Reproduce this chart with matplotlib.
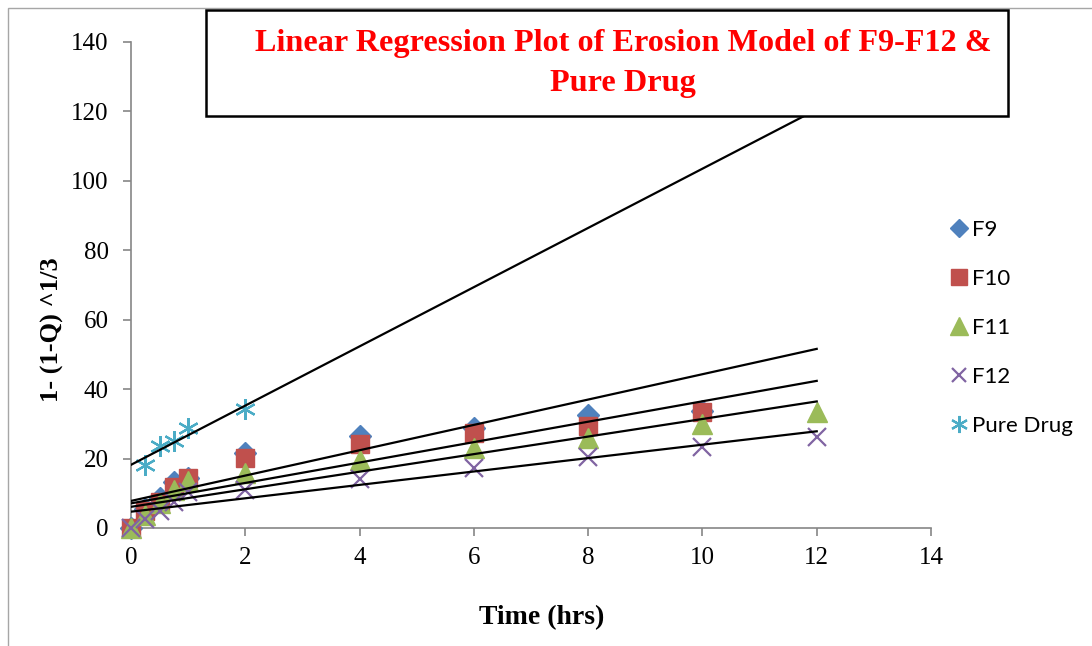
#!/usr/bin/env python3
"""Erosion model regression plot for F9-F12 and pure drug."""
import matplotlib

matplotlib.use("Agg", force=True)
import matplotlib.pyplot as plt
import numpy as np
from matplotlib.patches import Rectangle


TIME = [0, 0.25, 0.5, 0.75, 1, 2, 4, 6, 8, 10, 12]
F9 = [0, 5.5, 8.5, 13.3, 14.5, 21.7, 26.5, 28.7, 32.6, 33.6, np.nan]
F10 = [0, 5.0, 7.4, 11.7, 14.3, 20.2, 24.1, 27.4, 29.3, 33.4, np.nan]
F11 = [0, 3.7, 7.1, 11.0, 13.4, 15.8, 19.6, 23.1, 25.8, 29.9, 33.3]
F12 = [0, 2.6, 4.8, 7.4, 10.3, 10.9, 14.0, 17.2, 20.5, 23.2, 26.1]
PURE_TIME = [0.25, 0.5, 0.75, 1, 2]
PURE_DRUG = [18.2, 23.7, 25.0, 28.9, 34.3]

# linear trendlines (intercept, slope) as shown on the chart
TREND_INTERCEPT = [7.8, 7.1, 6.1, 4.7, 18.2]
TREND_SLOPE = [3.65, 2.94, 2.53, 1.93, 8.53]
TREND_END = 12

LABELS = ["F9", "F10", "F11", "F12", "Pure Drug"]
COLORS = ["#4F81BD", "#C0504D", "#9BBB59", "#8064A2", "#4BACC6"]

SERIF = "Liberation Serif"


def main() -> None:
    fig = plt.figure(figsize=(10.92, 6.46), dpi=100)
    ax = fig.add_axes([131 / 1092, 118 / 646, 800 / 1092, 486 / 646])

    styles = [
        dict(marker="D", ms=11),
        dict(marker="s", ms=13.5),
        dict(marker="^", ms=15),
        dict(marker="x", ms=13, mew=1.6),
        dict(marker=(6, 2, 0), ms=15, mew=1.6),
    ]
    series = [(TIME, F9), (TIME, F10), (TIME, F11), (TIME, F12), (PURE_TIME, PURE_DRUG)]
    handles = []
    for (xs, ys), label, color, st in zip(series, LABELS, COLORS, styles):
        h, = ax.plot(xs, ys, ls="none", color=color, mec=color, label=label,
                     clip_on=False, zorder=3, **st)
        handles.append(h)

    xs_line = np.array([0, TREND_END])
    for b, m in zip(TREND_INTERCEPT, TREND_SLOPE):
        ax.plot(xs_line, b + m * xs_line, color="black", lw=1.6, zorder=4)

    ax.set_xlim(0, 14)
    ax.set_ylim(0, 140)
    ax.set_xticks(range(0, 15, 2))
    ax.set_yticks(range(0, 141, 20))
    for side in ["top", "right"]:
        ax.spines[side].set_visible(False)
    for side in ["left", "bottom"]:
        ax.spines[side].set_color("#868686")
        ax.spines[side].set_linewidth(1.2)
    ax.tick_params(axis="both", direction="out", color="#868686", length=6, width=1.2,
                   labelsize=18)
    ax.tick_params(axis="y", pad=10)
    ax.tick_params(axis="x", pad=8)
    for lbl in ax.get_xticklabels() + ax.get_yticklabels():
        lbl.set_fontfamily(SERIF)

    fig.text(542 / 1092, 1 - 618 / 646, "Time (hrs)", ha="center", va="center",
             family=SERIF, fontweight="bold", fontsize=20)
    fig.text(52 / 1092, 1 - 330 / 646, "1- (1-Q) ^1/3", ha="center", va="center",
             rotation=90, family=SERIF, fontweight="bold", fontsize=19)

    # title box sits over the plot area and hides the top of the pure drug line
    box = Rectangle((206 / 1092, 1 - 116 / 646), 802 / 1092, 106 / 646,
                    transform=fig.transFigure, facecolor="white", edgecolor="black",
                    lw=1.8, zorder=10)
    fig.add_artist(box)
    fig.text(623 / 1092, 1 - 43 / 646, "Linear Regression Plot of Erosion Model of F9-F12 &",
             ha="center", va="center", family=SERIF, fontweight="bold", fontsize=23.2,
             color="red", zorder=11)
    fig.text(623 / 1092, 1 - 84 / 646, "Pure Drug",
             ha="center", va="center", family=SERIF, fontweight="bold", fontsize=23.2,
             color="red", zorder=11)

    fig.legend(handles=handles, loc="center left", bbox_to_anchor=(930 / 1092, 1 - 328 / 646),
               frameon=False, prop={"family": "Lato", "size": 16}, handlelength=0.8,
               handletextpad=0.2, labelspacing=1.3, markerscale=0.82)

    # outer chart border, cropped at right and bottom
    border = Rectangle((8 / 1092, -0.1), 1.2, 1.1 - 8 / 646, transform=fig.transFigure,
                       facecolor="none", edgecolor="#a6a6a6", lw=1.0, zorder=0)
    fig.add_artist(border)

    fig.savefig("out.png", dpi=100)
    plt.close(fig)


if __name__ == "__main__":
    main()
